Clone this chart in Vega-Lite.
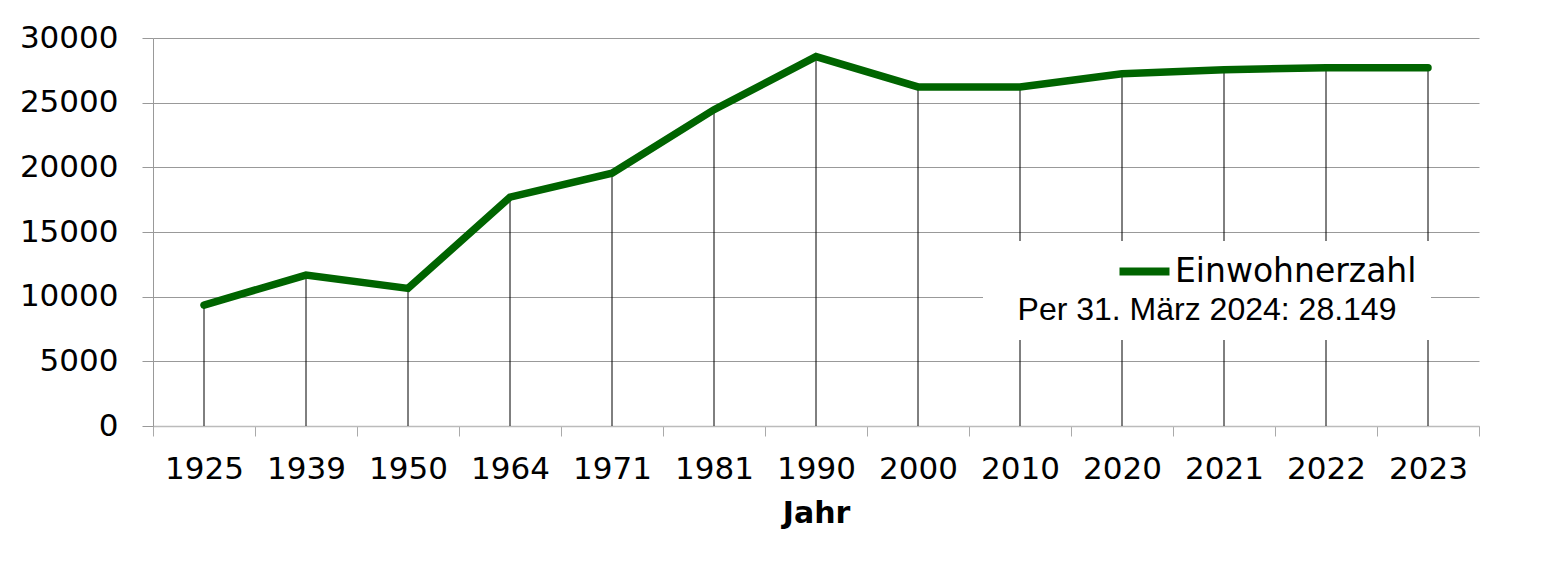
{
  "$schema": "https://vega.github.io/schema/vega-lite/v6.json",
  "autosize": {"type": "none"},
  "width": 1326,
  "height": 388,
  "padding": {"left": 153, "top": 38, "right": 88, "bottom": 148},
  "background": "white",
  "config": {
    "view": {"stroke": null},
    "axis": {"labelColor": "black", "titleColor": "black", "labelFont": "DejaVu Sans", "titleFont": "DejaVu Sans"}
  },
  "data": {
    "values": [
      {"Jahr": "1925", "Einwohner": 9350, "Serie": "Einwohnerzahl"},
      {"Jahr": "1939", "Einwohner": 11670, "Serie": "Einwohnerzahl"},
      {"Jahr": "1950", "Einwohner": 10640, "Serie": "Einwohnerzahl"},
      {"Jahr": "1964", "Einwohner": 17690, "Serie": "Einwohnerzahl"},
      {"Jahr": "1971", "Einwohner": 19550, "Serie": "Einwohnerzahl"},
      {"Jahr": "1981", "Einwohner": 24460, "Serie": "Einwohnerzahl"},
      {"Jahr": "1990", "Einwohner": 28560, "Serie": "Einwohnerzahl"},
      {"Jahr": "2000", "Einwohner": 26220, "Serie": "Einwohnerzahl"},
      {"Jahr": "2010", "Einwohner": 26220, "Serie": "Einwohnerzahl"},
      {"Jahr": "2020", "Einwohner": 27240, "Serie": "Einwohnerzahl"},
      {"Jahr": "2021", "Einwohner": 27550, "Serie": "Einwohnerzahl"},
      {"Jahr": "2022", "Einwohner": 27700, "Serie": "Einwohnerzahl"},
      {"Jahr": "2023", "Einwohner": 27700, "Serie": "Einwohnerzahl"}
    ]
  },
  "encoding": {
    "x": {
      "field": "Jahr",
      "type": "ordinal",
      "sort": null,
      "scale": {"type": "band", "paddingInner": 0, "paddingOuter": 0},
      "axis": {
        "title": "Jahr",
        "titleFontWeight": "bold",
        "titleFontSize": 30,
        "titleBaseline": "alphabetic",
        "titleY": 96,
        "labelAngle": 0,
        "labelFontSize": 31,
        "labelPadding": 18,
        "tickBand": "extent",
        "tickSize": 10,
        "tickColor": "#aaaaaa",
        "domainColor": "#bbbbbb",
        "domainWidth": 1.5,
        "grid": false
      }
    }
  },
  "layer": [
    {
      "mark": {"type": "rule", "color": "black", "strokeWidth": 1},
      "encoding": {
        "y": {
          "field": "Einwohner",
          "type": "quantitative",
          "scale": {"domain": [0, 30000], "nice": false},
          "axis": {
            "title": null,
            "values": [0, 5000, 10000, 15000, 20000, 25000, 30000],
            "format": "d",
            "labelFontSize": 31,
            "labelPadding": 24,
            "tickSize": 11,
            "tickColor": "#999999",
            "domainColor": "#999999",
            "gridColor": "#999999",
            "gridWidth": 1,
            "grid": true
          }
        },
        "y2": {"datum": 0}
      }
    },
    {
      "mark": {"type": "line", "strokeWidth": 7.5, "strokeCap": "round", "strokeJoin": "miter"},
      "encoding": {
        "y": {"field": "Einwohner", "type": "quantitative"},
        "color": {
          "field": "Serie",
          "type": "nominal",
          "scale": {"range": ["#006400"]},
          "legend": {
            "orient": "none",
            "legendX": 830,
            "legendY": 203,
            "fillColor": "white",
            "padding": 14,
            "title": "Per 31. März 2024: 28.149",
            "titleOrient": "bottom",
            "titleAnchor": "middle",
            "titleBaseline": "top",
            "titlePadding": 6,
            "titleFont": "Liberation Sans",
            "titleFontSize": 32,
            "titleFontWeight": "normal",
            "titleColor": "black",
            "titleLimit": 700,
            "labelFont": "DejaVu Sans",
            "labelFontSize": 33,
            "labelColor": "black",
            "labelLimit": 500,
            "labelBaseline": "middle",
            "symbolType": "M-2,0L2,0",
            "symbolSize": 625,
            "symbolStrokeWidth": 8,
            "symbolOffset": 131,
            "labelOffset": 14
          }
        }
      }
    }
  ]
}
